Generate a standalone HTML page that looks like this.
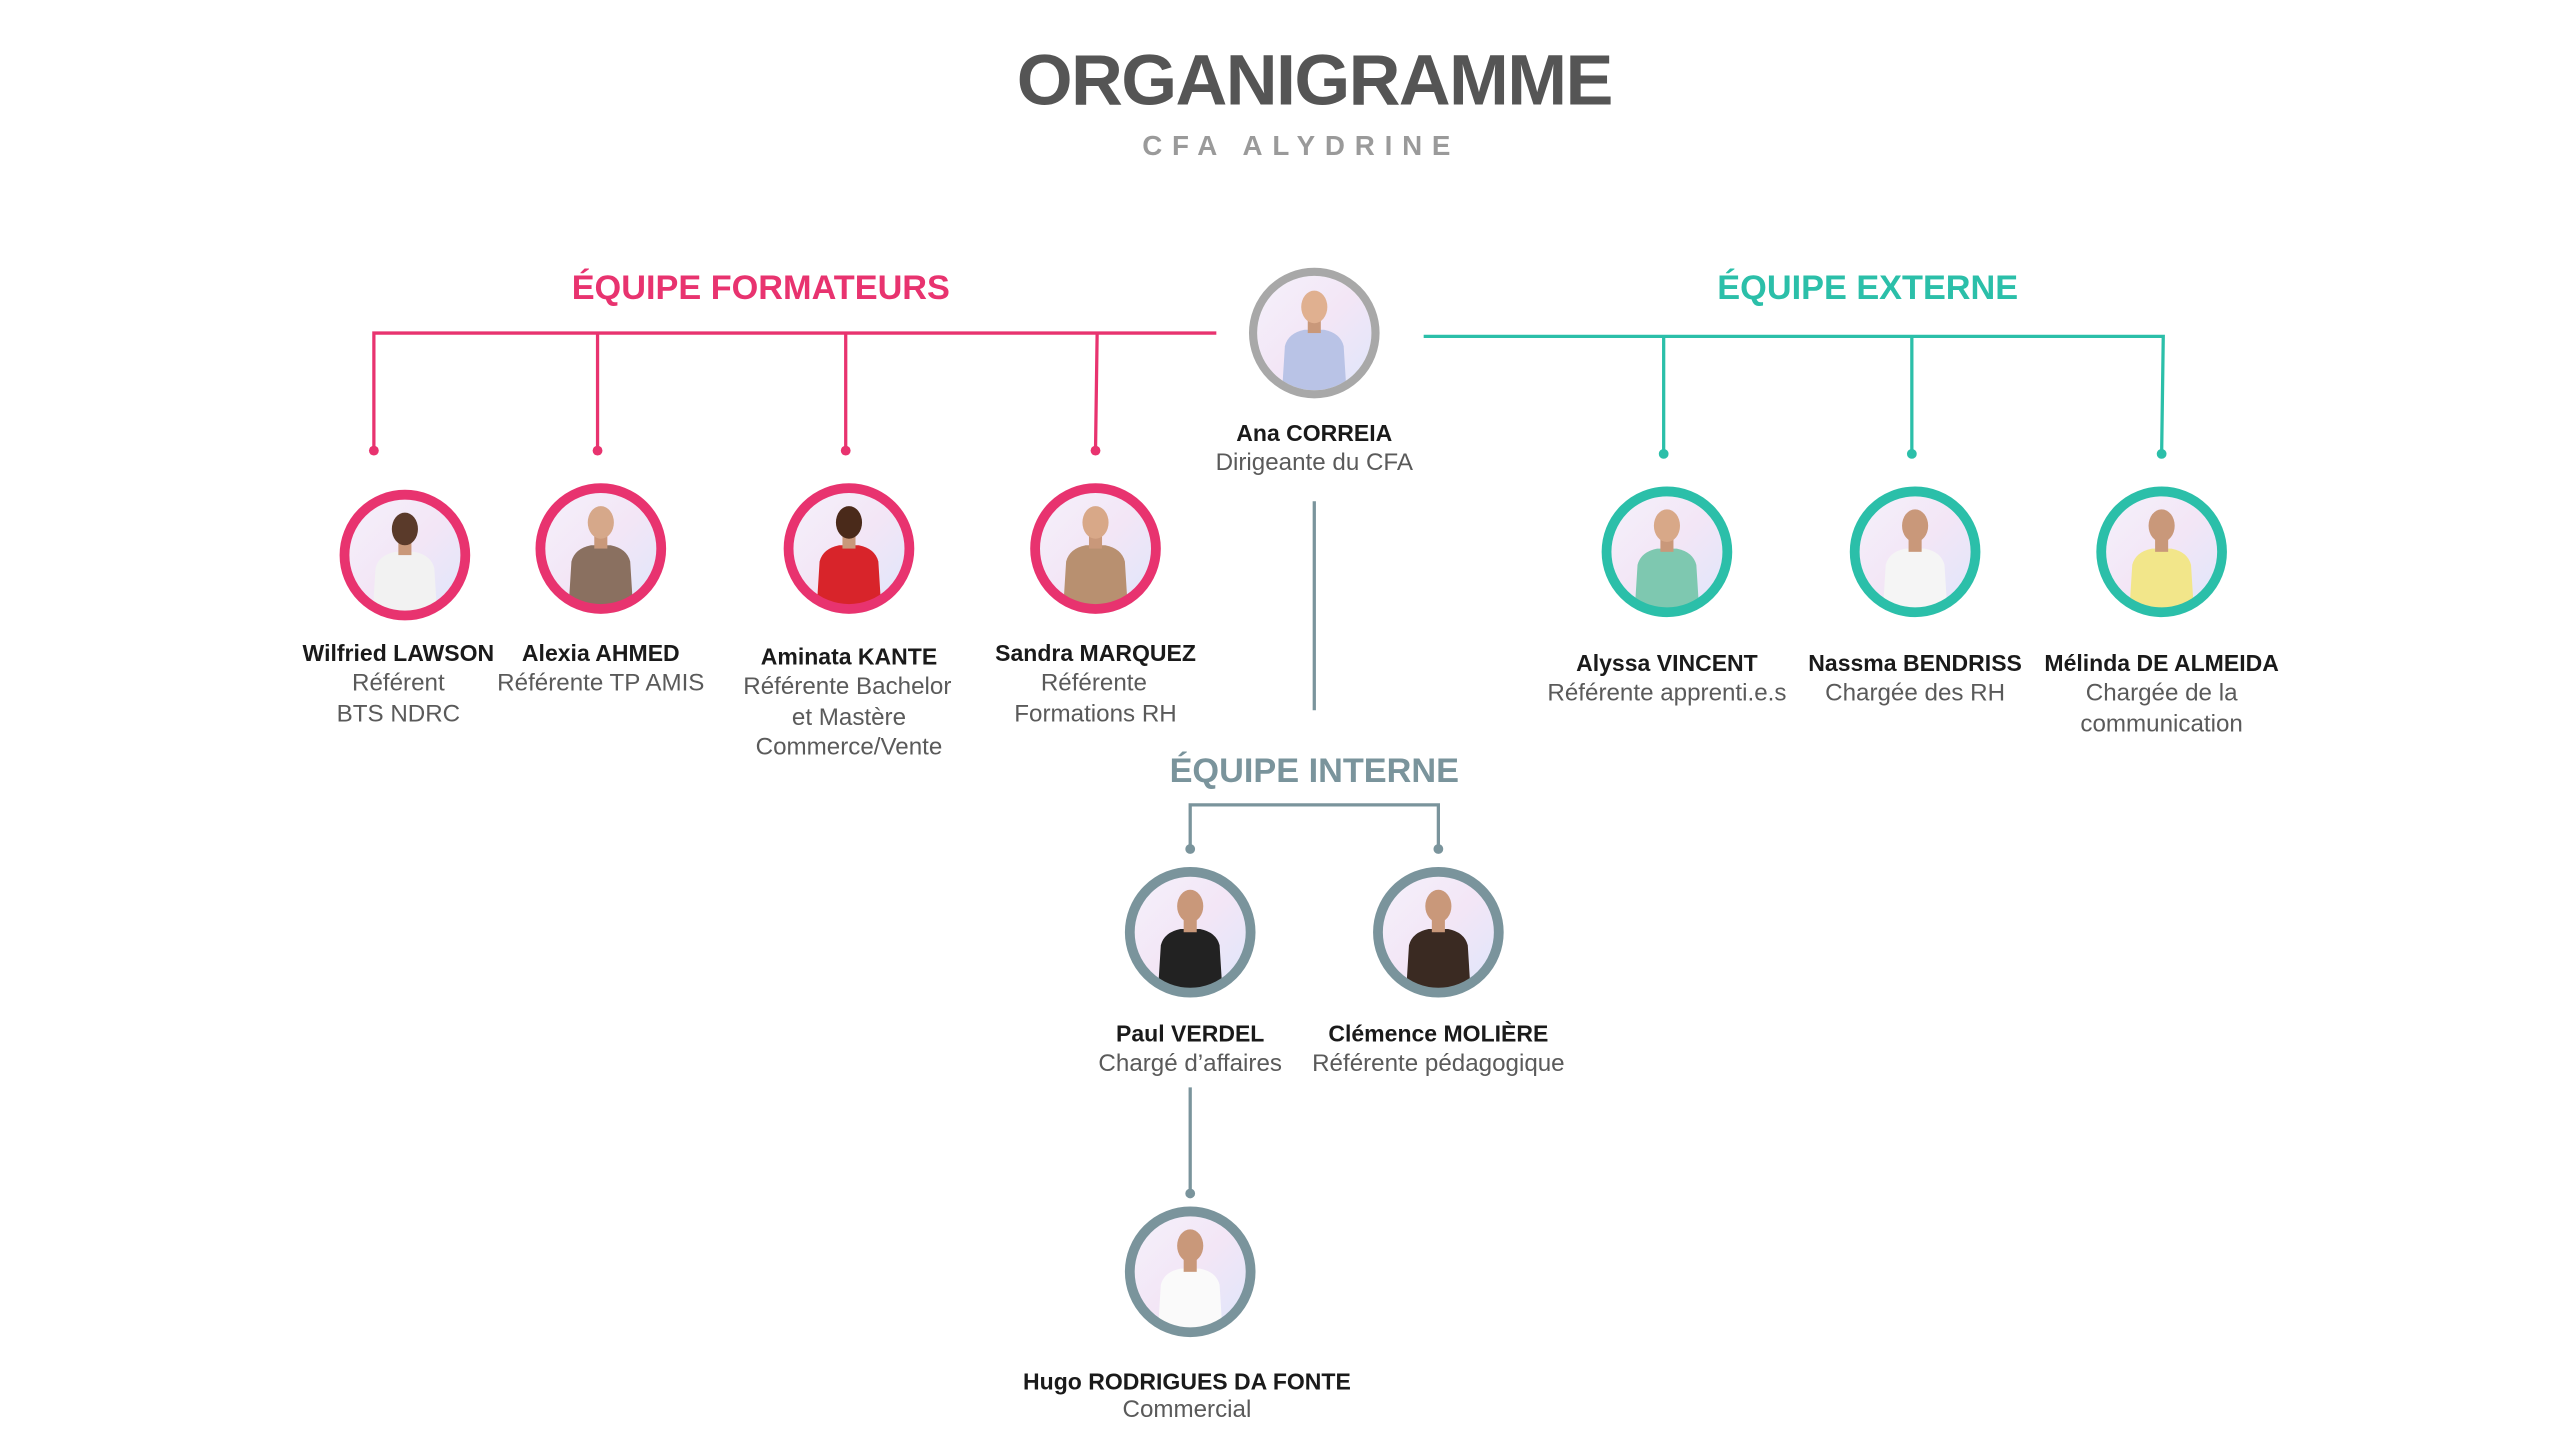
<!DOCTYPE html>
<html><head><meta charset="utf-8"><style>
html,body{margin:0;padding:0;background:#fff;}
svg{display:block}
text{font-family:"Liberation Sans",sans-serif;}
.n{font-size:14.1px;font-weight:bold;fill:#1a1a1a;text-anchor:middle}
.r{font-size:14.8px;fill:#5a5a5a;text-anchor:middle}
</style></head><body>
<svg width="2560" height="1440" viewBox="0 0 1568 882" xmlns="http://www.w3.org/2000/svg">
<defs>
<clipPath id="c"><circle cx="0" cy="0" r="35"/></clipPath>
<linearGradient id="bg" x1="0" y1="0" x2="1" y2="1"><stop offset="0" stop-color="#f4f1fb"/><stop offset="0.5" stop-color="#f3e6f6"/><stop offset="1" stop-color="#dfe6fb"/></linearGradient>
<g id="p">
 <circle r="35" fill="url(#bg)"/>
 <g clip-path="url(#c)">
  <path d="M-20 40 L-18 8 Q-16 0 -6 -2 L6 -2 Q16 0 18 8 L20 40 Z" fill="var(--b,#333)"/>
  <rect x="-4" y="-8" width="8" height="8" fill="#c9987a"/>
  <ellipse cx="0" cy="-16" rx="8" ry="10" fill="var(--s,#c9987a)"/>
 </g>
</g>
</defs>
<rect width="1568" height="882" fill="#fff"/>
<text x="805" y="64" text-anchor="middle" font-size="44" font-weight="bold" fill="#555" style="letter-spacing:-1px">ORGANIGRAMME</text>
<text x="797" y="95" text-anchor="middle" font-size="17" font-weight="bold" fill="#9a9a9a" style="letter-spacing:6px">CFA ALYDRINE</text>

<text x="466" y="183" text-anchor="middle" font-size="21" font-weight="bold" fill="#e8336f">ÉQUIPE FORMATEURS</text>
<text x="1144" y="183" text-anchor="middle" font-size="21" font-weight="bold" fill="#2bbfa9">ÉQUIPE EXTERNE</text>
<text x="805" y="479" text-anchor="middle" font-size="21" font-weight="bold" fill="#7a949c">ÉQUIPE INTERNE</text>

<g stroke="#e8336f" stroke-width="2" fill="none">
<path d="M745 204 H229 V276 M366 204 V276 M518 204 V276 M672 204 L671 276"/></g>
<g fill="#e8336f"><circle cx="229" cy="276" r="3"/><circle cx="366" cy="276" r="3"/><circle cx="518" cy="276" r="3"/><circle cx="671" cy="276" r="3"/></g>
<g stroke="#2bbfa9" stroke-width="2" fill="none">
<path d="M872 206 H1325 L1324 278 M1019 206 V278 M1171 206 V278"/></g>
<g fill="#2bbfa9"><circle cx="1019" cy="278" r="3"/><circle cx="1171" cy="278" r="3"/><circle cx="1324" cy="278" r="3"/></g>
<g stroke="#7a949c" stroke-width="2" fill="none">
<path d="M805 307 V435 M729 520 V493 H881 V520 M729 666 V731"/></g>
<g fill="#7a949c"><circle cx="729" cy="520" r="3"/><circle cx="881" cy="520" r="3"/><circle cx="729" cy="731" r="3"/></g>

<g transform="translate(805,204)"><use href="#p" style="--b:#b9c3e6;--s:#e0b090"/><circle r="37.5" fill="none" stroke="#a8a8a8" stroke-width="5"/></g>
<text class="n" x="805" y="270">Ana CORREIA</text>
<text class="r" x="805" y="288">Dirigeante du CFA</text>

<g transform="translate(248,340)"><use href="#p" style="--b:#f2f2f2;--s:#5a3a2a"/><circle r="37" fill="none" stroke="#e8336f" stroke-width="6"/></g>
<g transform="translate(368,336)"><use href="#p" style="--b:#8a7060;--s:#d6a88a"/><circle r="37" fill="none" stroke="#e8336f" stroke-width="6"/></g>
<g transform="translate(520,336)"><use href="#p" style="--b:#d8242a;--s:#4a2a1a"/><circle r="37" fill="none" stroke="#e8336f" stroke-width="6"/></g>
<g transform="translate(671,336)"><use href="#p" style="--b:#b89070;--s:#d8a888"/><circle r="37" fill="none" stroke="#e8336f" stroke-width="6"/></g>
<text class="n" x="244" y="405">Wilfried LAWSON</text><text class="r" x="244" y="423">Référent</text><text class="r" x="244" y="442">BTS NDRC</text>
<text class="n" x="368" y="405">Alexia AHMED</text><text class="r" x="368" y="423">Référente TP AMIS</text>
<text class="n" x="520" y="407">Aminata KANTE</text><text class="r" x="519" y="425">Référente Bachelor</text><text class="r" x="520" y="444">et Mastère</text><text class="r" x="520" y="462">Commerce/Vente</text>
<text class="n" x="671" y="405">Sandra MARQUEZ</text><text class="r" x="670" y="423">Référente</text><text class="r" x="671" y="442">Formations RH</text>

<g transform="translate(1021,338)"><use href="#p" style="--b:#7ec8b0;--s:#d8a888"/><circle r="37" fill="none" stroke="#2bbfa9" stroke-width="6"/></g>
<g transform="translate(1173,338)"><use href="#p" style="--b:#f5f5f5;--s:#c9987a"/><circle r="37" fill="none" stroke="#2bbfa9" stroke-width="6"/></g>
<g transform="translate(1324,338)"><use href="#p" style="--b:#f2e68a;--s:#c9987a"/><circle r="37" fill="none" stroke="#2bbfa9" stroke-width="6"/></g>
<text class="n" x="1021" y="411">Alyssa VINCENT</text><text class="r" x="1021" y="429">Référente apprenti.e.s</text>
<text class="n" x="1173" y="411">Nassma BENDRISS</text><text class="r" x="1173" y="429">Chargée des RH</text>
<text class="n" x="1324" y="411">Mélinda DE ALMEIDA</text><text class="r" x="1324" y="429">Chargée de la</text><text class="r" x="1324" y="448">communication</text>

<g transform="translate(729,571)"><use href="#p" style="--b:#222;--s:#c9987a"/><circle r="37" fill="none" stroke="#7a949c" stroke-width="6"/></g>
<g transform="translate(881,571)"><use href="#p" style="--b:#3a2a22;--s:#c9987a"/><circle r="37" fill="none" stroke="#7a949c" stroke-width="6"/></g>
<g transform="translate(729,779)"><use href="#p" style="--b:#fafafa;--s:#c9987a"/><circle r="37" fill="none" stroke="#7a949c" stroke-width="6"/></g>
<text class="n" x="729" y="638">Paul VERDEL</text><text class="r" x="729" y="656">Chargé d’affaires</text>
<text class="n" x="881" y="638">Clémence MOLIÈRE</text><text class="r" x="881" y="656">Référente pédagogique</text>
<text class="n" x="727" y="851">Hugo RODRIGUES DA FONTE</text><text class="r" x="727" y="868">Commercial</text>
</svg>
</body></html>
